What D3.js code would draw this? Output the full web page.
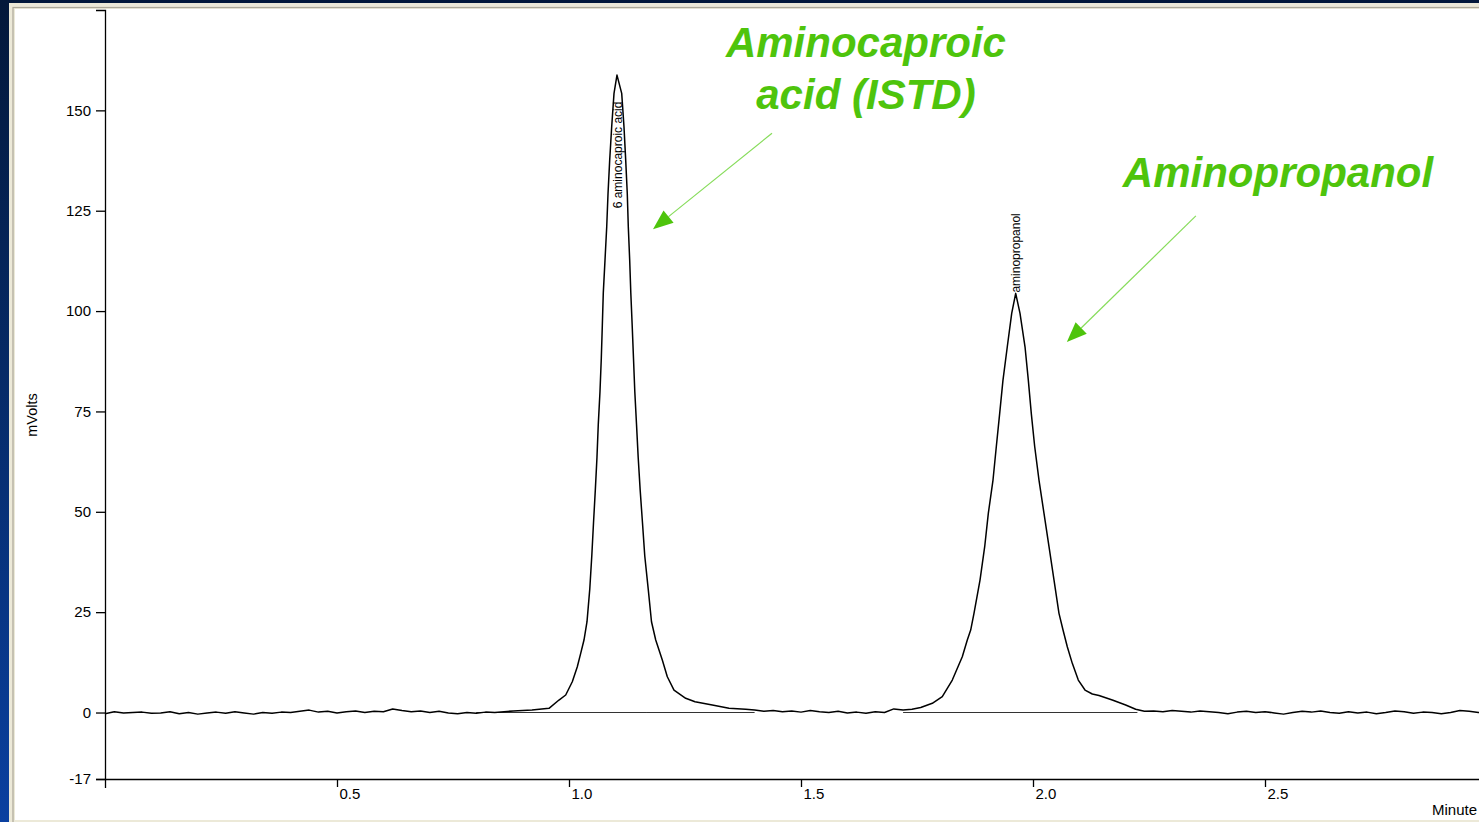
<!DOCTYPE html>
<html>
<head>
<meta charset="utf-8">
<script src="https://cdn.jsdelivr.net/npm/d3@7"></script>
<style>
  html, body { margin: 0; padding: 0; background: #001a3e; overflow: hidden; }
  svg { display: block; }
</style>
</head>
<body>
<div id="chart"></div>
<script>
/* Chromatogram: 6 aminocaproic acid (ISTD) and aminopropanol
 * x: retention time (min), y: detector signal (mVolts).
 */
(function () {
  'use strict';

  // --- Data ---
  // [minutes, mVolts]
  const BASE_LEFT = [
    [0.00, -0.3], [0.02, 0.2], [0.04, -0.1], [0.06, 0.0], [0.08, 0.1], [0.10, -0.2],
    [0.12, -0.1], [0.14, 0.2], [0.16, -0.3], [0.18, 0.0], [0.20, -0.4], [0.22, -0.1],
    [0.24, 0.1], [0.26, -0.2], [0.28, 0.2], [0.30, -0.1], [0.32, -0.4], [0.34, 0.0],
    [0.36, -0.2], [0.38, 0.1], [0.40, 0.0], [0.42, 0.3], [0.44, 0.6], [0.46, 0.1],
    [0.48, 0.3], [0.50, -0.1], [0.52, 0.2], [0.54, 0.4], [0.56, 0.0], [0.58, 0.3],
    [0.60, 0.2], [0.62, 0.9], [0.64, 0.5], [0.66, 0.2], [0.68, 0.4], [0.70, 0.0],
    [0.72, 0.3], [0.74, -0.1], [0.76, -0.3], [0.78, 0.0], [0.80, -0.2], [0.82, 0.1],
    [0.84, 0.0], [0.86, 0.2], [0.88, 0.4], [0.90, 0.5]
  ];
  const PEAK_ACA = [
    [0.9203, 0.62], [0.9569, 1.05], [0.9784, 3.11], [0.9929, 4.36], [1.0071, 7.67],
    [1.0179, 11.41], [1.0252, 14.74], [1.0323, 18.06], [1.0388, 22.62], [1.0448, 30.81],
    [1.0491, 39.00], [1.0528, 47.20], [1.0567, 55.39], [1.0603, 63.59], [1.0631, 71.78],
    [1.0668, 79.98], [1.0696, 88.17], [1.0718, 96.36], [1.0739, 104.53], [1.0776, 112.70],
    [1.0813, 121.00], [1.0841, 129.31], [1.0877, 137.61], [1.0920, 145.90], [1.0970, 154.22],
    [1.1034, 158.78],
    [1.1136, 154.22], [1.1185, 145.90], [1.1222, 137.61], [1.1256, 129.31], [1.1278, 121.00],
    [1.1308, 112.70], [1.1332, 104.53], [1.1362, 96.36], [1.1390, 88.17], [1.1418, 79.98],
    [1.1455, 71.78], [1.1491, 63.59], [1.1534, 55.39], [1.1584, 47.20], [1.1633, 39.00],
    [1.1707, 30.81], [1.1778, 22.62], [1.1869, 18.06], [1.2011, 13.08], [1.2119, 8.92],
    [1.2263, 5.60], [1.2515, 3.54], [1.2716, 2.69], [1.3088, 1.87], [1.3448, 1.05],
    [1.3808, 0.80]
  ];
  const BASE_MID = [
    [1.40, 0.6], [1.42, 0.3], [1.44, 0.5], [1.46, 0.2], [1.48, 0.4], [1.50, 0.1],
    [1.52, 0.5], [1.54, 0.2], [1.56, 0.0], [1.58, 0.3], [1.60, -0.1], [1.62, 0.1],
    [1.64, -0.2], [1.66, 0.2], [1.68, 0.0], [1.70, 0.9], [1.72, 0.6]
  ];
  const PEAK_AP = [
    [1.7392, 0.80], [1.7580, 1.25], [1.7830, 2.29], [1.8045, 3.94], [1.8261, 8.09],
    [1.8476, 13.90], [1.8584, 18.06], [1.8657, 20.55], [1.8728, 24.71], [1.8858, 33.00],
    [1.8959, 41.30], [1.9037, 49.61], [1.9138, 57.91], [1.9209, 66.20], [1.9282, 74.52],
    [1.9353, 82.81], [1.9446, 91.11], [1.9541, 99.43], [1.9627, 104.41],
    [1.9720, 99.43], [1.9828, 91.11], [1.9899, 82.81], [1.9963, 74.52], [2.0037, 66.20],
    [2.0129, 57.91], [2.0237, 49.61], [2.0345, 41.30], [2.0453, 33.00], [2.0560, 24.71],
    [2.0647, 20.55], [2.0739, 16.39], [2.0847, 12.25], [2.0976, 8.09], [2.1121, 5.60],
    [2.1278, 4.61], [2.1422, 4.23], [2.1709, 3.11], [2.1997, 1.87], [2.2213, 0.80]
  ];
  const BASE_RIGHT = [
    [2.24, 0.3], [2.26, 0.4], [2.28, 0.2], [2.30, 0.5], [2.32, 0.3], [2.34, 0.1],
    [2.36, 0.4], [2.38, 0.2], [2.40, 0.0], [2.42, -0.3], [2.44, 0.1], [2.46, 0.3],
    [2.48, 0.0], [2.50, 0.2], [2.52, -0.1], [2.54, -0.4], [2.56, 0.0], [2.58, 0.3],
    [2.60, 0.1], [2.62, 0.4], [2.64, 0.0], [2.66, -0.2], [2.68, 0.2], [2.70, -0.1],
    [2.72, 0.1], [2.74, -0.3], [2.76, 0.0], [2.78, 0.4], [2.80, 0.2], [2.82, -0.2],
    [2.84, 0.1], [2.86, 0.0], [2.88, -0.3], [2.90, 0.0], [2.92, 0.5], [2.94, 0.3],
    [2.96, 0.0], [2.98, 0.2], [3.00, 0.1]
  ];

  // integration baselines [start, end] in minutes
  const BASELINES = [[0.80, 1.168], [1.168, 1.40], [1.72, 2.225]];

  // peak name labels: [name, apex time, label start mV]
  const PEAK_LABELS = [
    ['6 aminocaproic acid', 1.1050, 125.6],
    ['aminopropanol', 1.9640, 104.6]
  ];

  const X_DOMAIN = [0, 3.0];
  const Y_DOMAIN = [-16.56, 175];
  const X_TICKS = [0.5, 1.0, 1.5, 2.0, 2.5];
  const Y_TICKS = [-16.56, 0, 25, 50, 75, 100, 125, 150];

  // callouts: text lines [text, t, mV], arrows [fromT, fromMV, toT, toMV]
  const CALLOUT_TEXT = [
    ['Aminocaproic', 1.640, 163.3],
    ['acid (ISTD)', 1.640, 150.3],
    ['Aminopropanol', 2.528, 130.9]
  ];
  const CALLOUT_ARROWS = [
    [1.4375, 144.3, 1.181, 120.4],
    [2.351, 123.7, 2.073, 92.3]
  ];

  const W = 1479, H = 822;
  const GREEN = '#4ec40c';
  const FONT = "'Liberation Sans', Arial, sans-serif";

  const svg = d3.select('#chart').append('svg').attr('width', W).attr('height', H);

  // --- window chrome ---
  const defs = svg.append('defs');
  const grad = defs.append('linearGradient').attr('id', 'bg').attr('x1', 0).attr('y1', 0).attr('x2', 0).attr('y2', 1);
  grad.append('stop').attr('offset', '0%').attr('stop-color', '#03183a');
  grad.append('stop').attr('offset', '45%').attr('stop-color', '#062a66');
  grad.append('stop').attr('offset', '100%').attr('stop-color', '#0a40a0');
  svg.append('rect').attr('width', W).attr('height', H).attr('fill', 'url(#bg)');

  svg.append('rect').attr('x', 9).attr('y', 3).attr('width', W - 9).attr('height', H - 3).attr('fill', '#ece9d8');
  svg.append('rect').attr('x', 13).attr('y', 7.5).attr('width', W).attr('height', H).attr('fill', 'none')
    .attr('stroke', '#aca899').attr('stroke-width', 1.2);
  svg.append('rect').attr('x', 15).attr('y', 9).attr('width', W - 15).attr('height', H - 11).attr('fill', '#ffffff');

  // --- scales & axes ---
  const x = d3.scaleLinear().domain(X_DOMAIN).range([105, 105 + 464 * 3]);
  const y = d3.scaleLinear().domain(Y_DOMAIN).range([779, 10]);

  const yAxis = svg.append('g').attr('transform', `translate(${x(0)},0)`)
    .call(d3.axisLeft(y).tickValues(Y_TICKS).tickFormat(d => Math.round(d)).tickSize(9).tickSizeOuter(9).tickPadding(5));
  const xAxis = svg.append('g').attr('transform', `translate(0,${y(Y_DOMAIN[0])})`)
    .call(d3.axisBottom(x).tickValues(X_TICKS).tickFormat(d3.format('.1f')).tickSize(8).tickSizeOuter(9).tickPadding(1));
  xAxis.selectAll('text').attr('text-anchor', 'start').attr('x', 2);

  [xAxis, yAxis].forEach(a => {
    a.selectAll('.domain').attr('stroke', '#000').attr('stroke-width', 1.3);
    a.selectAll('.tick line').attr('stroke', '#000').attr('stroke-width', 1.3);
    a.selectAll('text').style('font-family', FONT).style('font-size', '15px').attr('fill', '#000');
  });

  svg.append('text')
    .attr('transform', 'translate(37,415) rotate(-90)')
    .attr('text-anchor', 'middle').style('font-family', FONT).style('font-size', '14.5px').attr('fill', '#000')
    .text('mVolts');
  svg.append('text').attr('x', 1477).attr('y', 815).attr('text-anchor', 'end')
    .style('font-family', FONT).style('font-size', '15px').attr('fill', '#000').text('Minute');

  // --- plot ---
  const plot = svg.append('g');

  BASELINES.forEach(b => {
    plot.append('line').attr('x1', x(b[0])).attr('x2', x(b[1])).attr('y1', y(0)).attr('y2', y(0))
      .attr('stroke', '#333').attr('stroke-width', 1.2);
  });

  const trace = [].concat(BASE_LEFT, PEAK_ACA, BASE_MID, PEAK_AP, BASE_RIGHT);
  const line = d3.line().x(d => x(d[0])).y(d => y(d[1]));
  plot.append('path').datum(trace).attr('d', line).attr('fill', 'none')
    .attr('stroke', '#000').attr('stroke-width', 1.5).attr('stroke-linejoin', 'round');

  PEAK_LABELS.forEach(p => {
    svg.append('text')
      .attr('transform', `translate(${x(p[1]) + 4},${y(p[2])}) rotate(-90)`)
      .style('font-family', FONT).style('font-size', '12px').attr('fill', '#000')
      .text(p[0]);
  });

  // --- green callouts ---
  CALLOUT_TEXT.forEach(c => {
    svg.append('text').attr('x', x(c[1])).attr('y', y(c[2])).attr('text-anchor', 'middle')
      .style('font-family', FONT).style('font-size', '42px').style('font-weight', 'bold')
      .style('font-style', 'italic').attr('fill', GREEN).text(c[0]);
  });

  CALLOUT_ARROWS.forEach(a => {
    const x1 = x(a[0]), y1 = y(a[1]), x2 = x(a[2]), y2 = y(a[3]);
    const ang = Math.atan2(y2 - y1, x2 - x1);
    const len = 20, half = 8;
    const bx = x2 - len * Math.cos(ang), by = y2 - len * Math.sin(ang);
    svg.append('line').attr('x1', x1).attr('y1', y1).attr('x2', bx).attr('y2', by)
      .attr('stroke', '#86dc5a').attr('stroke-width', 1.2);
    const pts = [
      [x2, y2],
      [bx + half * Math.sin(ang), by - half * Math.cos(ang)],
      [bx - half * Math.sin(ang), by + half * Math.cos(ang)]
    ];
    svg.append('polygon').attr('points', pts.map(p => p.join(',')).join(' ')).attr('fill', GREEN);
  });
})();
</script>
</body>
</html>
